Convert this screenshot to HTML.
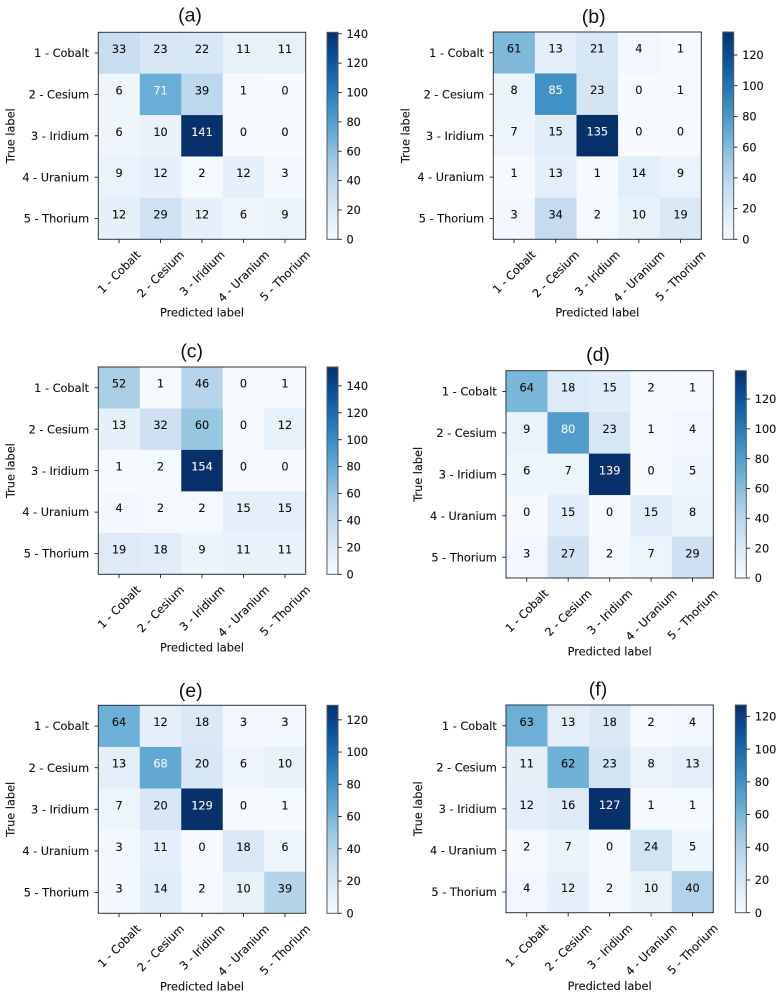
<!DOCTYPE html>
<html lang="en">
<head>
<meta charset="utf-8">
<title>Confusion matrices (a) to (f)</title>
<style>
html,body{margin:0;padding:0;background:#fff;width:779px;height:997px;overflow:hidden}
svg{display:block;filter:blur(0.35px)}
text{font-family:"DejaVu Sans","Liberation Sans",sans-serif;font-size:11.3px;fill:#111;stroke:#111;stroke-width:0.12px}
.title{font-family:"Liberation Sans",sans-serif;font-size:19.5px;fill:#111;stroke:none}
</style>
</head>
<body>
<svg id="fig" xmlns="http://www.w3.org/2000/svg" width="779" height="997" viewBox="0 0 779 997">
<defs id="defs"></defs>
<rect x="0" y="0" width="779" height="997" fill="#ffffff"></rect>
</svg>
<script>
const categories = ["1 - Cobalt", "2 - Cesium", "3 - Iridium", "4 - Uranium", "5 - Thorium"];
const panelTitles = ["(a)", "(b)", "(c)", "(d)", "(e)", "(f)"];
const xAxisTitle = "Predicted label";
const yAxisTitle = "True label";

const valuesA = [
  [33, 23, 22, 11, 11],
  [6, 71, 39, 1, 0],
  [6, 10, 141, 0, 0],
  [9, 12, 2, 12, 3],
  [12, 29, 12, 6, 9]
];
const valuesB = [
  [61, 13, 21, 4, 1],
  [8, 85, 23, 0, 1],
  [7, 15, 135, 0, 0],
  [1, 13, 1, 14, 9],
  [3, 34, 2, 10, 19]
];
const valuesC = [
  [52, 1, 46, 0, 1],
  [13, 32, 60, 0, 12],
  [1, 2, 154, 0, 0],
  [4, 2, 2, 15, 15],
  [19, 18, 9, 11, 11]
];
const valuesD = [
  [64, 18, 15, 2, 1],
  [9, 80, 23, 1, 4],
  [6, 7, 139, 0, 5],
  [0, 15, 0, 15, 8],
  [3, 27, 2, 7, 29]
];
const valuesE = [
  [64, 12, 18, 3, 3],
  [13, 68, 20, 6, 10],
  [7, 20, 129, 0, 1],
  [3, 11, 0, 18, 6],
  [3, 14, 2, 10, 39]
];
const valuesF = [
  [63, 13, 18, 2, 4],
  [11, 62, 23, 8, 13],
  [12, 16, 127, 1, 1],
  [2, 7, 0, 24, 5],
  [4, 12, 2, 10, 40]
];
const allValues = [valuesA, valuesB, valuesC, valuesD, valuesE, valuesF];
const colorbarTicks = [0, 20, 40, 60, 80, 100, 120, 140];
const blues = ["#f7fbff", "#deebf7", "#c6dbef", "#9ecae1", "#6baed6", "#4292c6", "#2171b5", "#08519c", "#08306b"];

/* layout (pixels) for each panel, separate from the data above */
const frames = [
  {l: 98.3, r: 305.7, t: 32.3, b: 239.3, cl: 327, cr: 338, tx: 190, ty: 21.5},
  {l: 493.3, r: 701.3, t: 32, b: 239.3, cl: 722.7, cr: 733.7, tx: 593.7, ty: 23},
  {l: 98.3, r: 305.7, t: 367, b: 574.3, cl: 327, cr: 338, tx: 191.7, ty: 357.7},
  {l: 506, r: 713.3, t: 370.7, b: 578, cl: 735.3, cr: 746.3, tx: 598, ty: 361},
  {l: 98.3, r: 305.7, t: 705.3, b: 913.3, cl: 327, cr: 338, tx: 190.7, ty: 697},
  {l: 506, r: 713.3, t: 705, b: 912.7, cl: 735.3, cr: 746.3, tx: 598, ty: 695.3}
];

const NS = "http://www.w3.org/2000/svg";
const fig = document.getElementById("fig");
const defs = document.getElementById("defs");

function make(tag, attrs, parent, content) {
  const el = document.createElementNS(NS, tag);
  for (const k in attrs) el.setAttribute(k, attrs[k]);
  if (content !== undefined) el.textContent = content;
  parent.appendChild(el);
  return el;
}
function hexRgb(h) {
  return [parseInt(h.slice(1, 3), 16), parseInt(h.slice(3, 5), 16), parseInt(h.slice(5, 7), 16)];
}
function colormap(t) {
  const p = Math.max(0, Math.min(1, t)) * (blues.length - 1);
  const i = Math.min(blues.length - 2, Math.floor(p));
  const a = hexRgb(blues[i]), b = hexRgb(blues[i + 1]), f = p - i;
  return "rgb(" + a.map((v, k) => Math.round(v + (b[k] - v) * f)).join(",") + ")";
}

const gradient = make("linearGradient", {id: "blues-gradient", x1: 0, y1: 1, x2: 0, y2: 0}, defs);
blues.forEach((c, i) => {
  make("stop", {offset: i / (blues.length - 1), "stop-color": c}, gradient);
});

allValues.forEach((matrix, p) => {
  const f = frames[p];
  const letter = "abcdef"[p];
  const vmax = Math.max(...matrix.flat());
  const n = categories.length;
  const xScale = i => f.l + (f.r - f.l) * (i + 0.5) / n;
  const yScale = i => f.t + (f.b - f.t) * (i + 0.5) / n;
  const cbScale = v => f.b - (f.b - f.t) * v / vmax;
  const cw = (f.r - f.l) / n, ch = (f.b - f.t) / n;

  const g = make("g", {}, fig);
  
  

  const title = make("text", {x: f.tx, y: f.ty, "text-anchor": "middle", class: "title"}, g, panelTitles[p]);
  
  

  matrix.forEach((row, r) => {
    row.forEach((v, c) => {
      const cell = make("rect", {
        x: xScale(c) - cw / 2, y: yScale(r) - ch / 2,
        width: cw + 0.3, height: ch + 0.3, fill: colormap(v / vmax)
      }, g);
      
      
    });
  });
  matrix.forEach((row, r) => {
    row.forEach((v, c) => {
      const light = v > vmax / 2;
      const label = make("text", {
        x: xScale(c), y: yScale(r), "text-anchor": "middle",
        style: light ? "fill:#f4f4f4;stroke:#f4f4f4" : "fill:#111;stroke:#111"
      }, g, String(v));
      
      
    });
  });

  const frame = make("rect", {
    x: f.l, y: f.t, width: f.r - f.l, height: f.b - f.t,
    fill: "none", stroke: "#2f3438", "stroke-width": 1
  }, g);
  
  

  categories.forEach((cat, i) => {
    const ytick = make("line", {x1: f.l - 3.8, x2: f.l, y1: yScale(i), y2: yScale(i), stroke: "#222", "stroke-width": 0.9}, g);
    
    

    const ylab = make("text", {x: f.l - 9.2, y: yScale(i) + 4.1, "text-anchor": "end"}, g, cat);
    
    

    const xtick = make("line", {x1: xScale(i), x2: xScale(i), y1: f.b, y2: f.b + 3.8, stroke: "#222", "stroke-width": 0.9}, g);
    
    

    const xlab = make("text", {x: 0, y: 4, "text-anchor": "middle"}, g, cat);
    
    
    const w = xlab.getComputedTextLength();
    const half = (w + 8) * Math.SQRT1_2 / 2;
    xlab.setAttribute("transform", "translate(" + xScale(i) + "," + (f.b + 10.5 + half) + ") rotate(-45)");
  });

  const xTitle = make("text", {x: (f.l + f.r) / 2, y: f.b + 77.3, "text-anchor": "middle"}, g, xAxisTitle);
  
  

  const yTitle = make("text", {
    "text-anchor": "middle",
    transform: "translate(" + (f.l - 84) + "," + ((f.t + f.b) / 2) + ") rotate(-90)"
  }, g, yAxisTitle);
  
  

  const bar = make("rect", {
    x: f.cl, y: f.t, width: f.cr - f.cl, height: f.b - f.t,
    fill: "url(#blues-gradient)", stroke: "#55595c", "stroke-width": 1
  }, g);
  
  

  colorbarTicks.filter(v => v <= vmax).forEach(v => {
    const t = make("line", {x1: f.cr, x2: f.cr + 3.8, y1: cbScale(v), y2: cbScale(v), stroke: "#222", "stroke-width": 0.9}, g);
    
    

    const l = make("text", {x: f.cr + 8.5, y: cbScale(v) + 4.1}, g, String(v));
    
    
  });
});
</script>
</body>
</html>
